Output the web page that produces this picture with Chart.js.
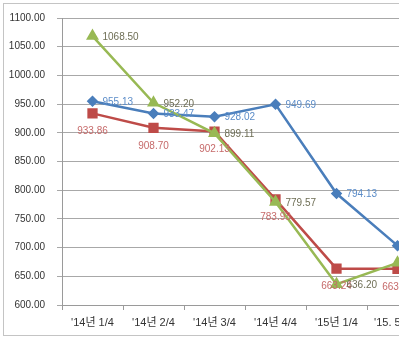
<!DOCTYPE html>
<html>
<head>
<meta charset="utf-8">
<script src="https://cdn.jsdelivr.net/npm/chart.js@4/dist/chart.umd.min.js"></script>
<style>
  html, body { margin: 0; padding: 0; background: #fff; overflow: hidden; }
  #wrap { position: relative; width: 399px; height: 342px; overflow: hidden; }
  #frame { position: absolute; left: 3px; top: 3px; width: 480px; height: 333px; border: 1px solid #c4c4c4; box-sizing: border-box; }
  #box { position: absolute; left: 0; top: 0; width: 440px; height: 342px; }
</style>
</head>
<body>
<div id="wrap">
  <div id="frame"></div>
  <div id="box"><canvas id="myChart"></canvas></div>
</div>
<script>
var labels = ["'14년 1/4", "'14년 2/4", "'14년 3/4", "'14년 4/4", "'15년 1/4", "'15. 5월말"];
var blueValues = [955.13, 933.47, 928.02, 949.69, 794.13, 703.40];
var redValues = [933.86, 908.70, 902.13, 783.93, 663.24, 663.10];
var greenValues = [1068.50, 952.20, 899.11, 779.57, 636.20, 673.50];
var yTicks = [600, 650, 700, 750, 800, 850, 900, 950, 1000, 1050, 1100];

var fontFamily = "'Liberation Sans', 'Noto Sans CJK KR', sans-serif";

// value labels next to / under each point
var labelPlugin = {
    id: 'valueLabels',
    afterDatasetsDraw: function(chart){
        var c = chart.ctx;
        c.save();
        c.font = '10px ' + fontFamily;
        chart.data.datasets.forEach(function(ds, i){
            var meta = chart.getDatasetMeta(i);
            meta.data.forEach(function(pt, j){
                var txt = ds.data[j].toFixed(2);
                c.fillStyle = ds.labelColor;
                c.textBaseline = 'middle';
                if(ds.labelPos === 'below'){
                    c.textAlign = 'center';
                    c.fillText(txt, pt.x, pt.y + 18);
                } else {
                    c.textAlign = 'left';
                    c.fillText(txt, pt.x + 10, pt.y + 1);
                }
            });
        });
        c.restore();
    }
};

var ctx = document.getElementById('myChart');
var myChart = new Chart(ctx, {
    type: 'line',
    data: {
        labels: labels,
        datasets: [{
            label: 'A',
            data: blueValues,
            borderColor: '#4a7ebb',
            backgroundColor: '#4a7ebb',
            borderWidth: 2.5,
            pointStyle: 'rectRot',
            pointRadius: 4,
            labelColor: '#5b8cc8',
            labelPos: 'right',
            order: 2
        }, {
            label: 'B',
            data: redValues,
            borderColor: '#be4b48',
            backgroundColor: '#be4b48',
            borderWidth: 2.5,
            pointStyle: 'rect',
            pointRadius: 5.5,
            labelColor: '#c66a6a',
            labelPos: 'below',
            order: 1
        }, {
            label: 'C',
            data: greenValues,
            borderColor: '#98b954',
            backgroundColor: '#98b954',
            borderWidth: 2.5,
            pointStyle: 'triangle',
            pointRadius: 5,
            labelColor: '#6e6e55',
            labelPos: 'right',
            order: 0
        }]
    },
    options: {
        responsive: true,
        maintainAspectRatio: false,
        animation: false,
        layout: { padding: { top: 17, right: 12, bottom: 0, left: 0 } },
        plugins: { legend: { display: false }, tooltip: { enabled: false } },
        scales: {
            x: {
                offset: true,
                grid: { offset: true, drawOnChartArea: false, color: '#9a9a9a', tickLength: 5 },
                border: { color: '#9a9a9a' },
                ticks: { color: '#333', padding: 6, maxRotation: 0, autoSkip: false, font: { size: 11, family: fontFamily } },
                afterFit: function(s){ s.height = 37; }
            },
            y: {
                min: 600,
                max: 1100,
                afterBuildTicks: function(s){ s.ticks = yTicks.map(function(v){ return { value: v }; }); },
                grid: { color: '#a8a8a8', tickLength: 5 },
                border: { color: '#9a9a9a' },
                ticks: {
                    color: '#333', padding: 12,
                    font: { size: 10, family: fontFamily },
                    callback: function(v){ return v.toFixed(2); }
                },
                afterFit: function(s){ s.width = 62; }
            }
        }
    },
    plugins: [labelPlugin]
});
</script>
</body>
</html>
